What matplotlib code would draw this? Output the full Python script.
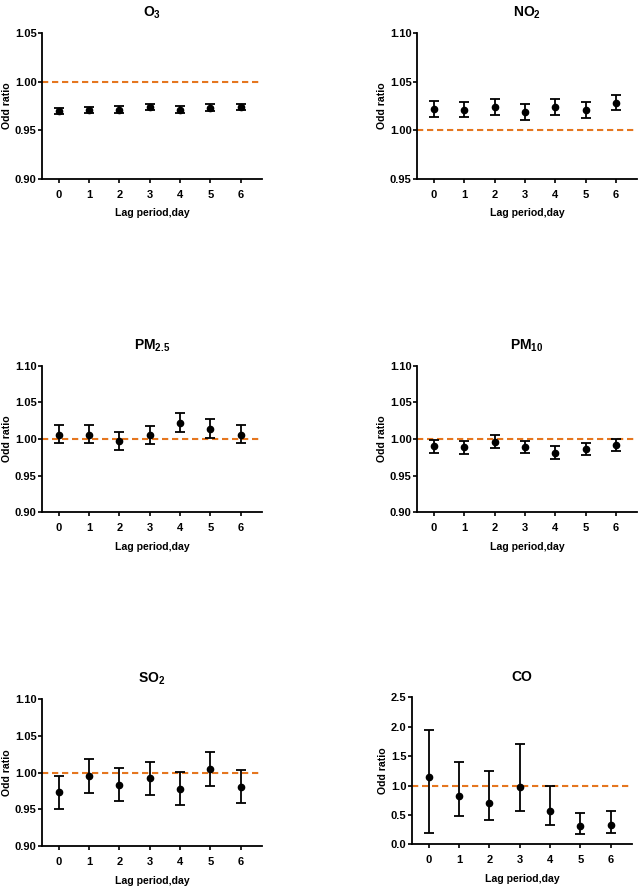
import numpy as np
from matplotlib import pyplot as plt

plt.rcParams["font.family"] = ["Liberation Sans", "DejaVu Sans"]
plt.rcParams["font.weight"] = "bold"
plt.rcParams["mathtext.fontset"] = "custom"
plt.rcParams["mathtext.bf"] = "Liberation Sans:bold"
plt.rcParams["mathtext.rm"] = "Liberation Sans:bold"
plt.rcParams["mathtext.default"] = "bf"

lags = [0, 1, 2, 3, 4, 5, 6]

o3_or = [0.970, 0.971, 0.971, 0.974, 0.971, 0.973, 0.974]
o3_lo = [0.967, 0.968, 0.968, 0.971, 0.968, 0.970, 0.971]
o3_hi = [0.973, 0.974, 0.975, 0.977, 0.975, 0.977, 0.977]

no2_or = [1.022, 1.021, 1.024, 1.019, 1.024, 1.021, 1.028]
no2_lo = [1.014, 1.014, 1.016, 1.011, 1.016, 1.013, 1.021]
no2_hi = [1.030, 1.029, 1.032, 1.027, 1.032, 1.029, 1.036]

pm25_or = [1.006, 1.006, 0.997, 1.005, 1.022, 1.014, 1.006]
pm25_lo = [0.994, 0.994, 0.985, 0.993, 1.010, 1.002, 0.994]
pm25_hi = [1.019, 1.019, 1.010, 1.018, 1.035, 1.027, 1.019]

pm10_or = [0.990, 0.989, 0.996, 0.989, 0.981, 0.986, 0.992]
pm10_lo = [0.981, 0.980, 0.988, 0.981, 0.973, 0.978, 0.983]
pm10_hi = [0.998, 0.997, 1.005, 0.997, 0.990, 0.995, 1.000]

so2_or = [0.973, 0.995, 0.983, 0.992, 0.978, 1.005, 0.980]
so2_lo = [0.950, 0.972, 0.961, 0.969, 0.956, 0.982, 0.959]
so2_hi = [0.996, 1.019, 1.006, 1.015, 1.001, 1.028, 1.003]

co_or = [1.14, 0.82, 0.71, 0.97, 0.57, 0.31, 0.33]
co_lo = [0.19, 0.48, 0.41, 0.56, 0.33, 0.18, 0.20]
co_hi = [1.95, 1.40, 1.25, 1.70, 1.00, 0.54, 0.56]

panels = [
    ("O$_3$", o3_or, o3_lo, o3_hi, (0.90, 1.05), np.arange(0.90, 1.051, 0.05), "%.2f"),
    ("NO$_2$", no2_or, no2_lo, no2_hi, (0.95, 1.10), np.arange(0.95, 1.101, 0.05), "%.2f"),
    ("PM$_{2.5}$", pm25_or, pm25_lo, pm25_hi, (0.90, 1.10), np.arange(0.90, 1.101, 0.05), "%.2f"),
    ("PM$_{10}$", pm10_or, pm10_lo, pm10_hi, (0.90, 1.10), np.arange(0.90, 1.101, 0.05), "%.2f"),
    ("SO$_2$", so2_or, so2_lo, so2_hi, (0.90, 1.10), np.arange(0.90, 1.101, 0.05), "%.2f"),
    ("CO", co_or, co_lo, co_hi, (0.0, 2.5), np.arange(0.0, 2.51, 0.5), "%.1f"),
]

# axes boxes in figure fractions (left, bottom, width, height)
boxes = [
    (0.066, 0.798, 0.344, 0.165),
    (0.653, 0.798, 0.344, 0.165),
    (0.066, 0.422, 0.344, 0.165),
    (0.653, 0.422, 0.344, 0.165),
    (0.066, 0.045, 0.344, 0.166),
    (0.645, 0.047, 0.344, 0.166),
]

fig = plt.figure(figsize=(6.39, 8.86), dpi=100)
orange = "#E5761F"

for (title, val, lo, hi, ylim, yticks, fmt), box in zip(panels, boxes):
    ax = fig.add_axes(box)
    val = np.array(val)
    yerr = [val - np.array(lo), np.array(hi) - val]
    ax.axhline(1.0, color=orange, lw=1.5, dashes=(3, 1.8), zorder=1)
    ax.errorbar(lags, val, yerr=yerr, fmt="o", color="black", ms=4.5,
                capsize=3.8, elinewidth=1.3, capthick=1.3, zorder=3)
    ax.set_xlim(-0.55, 6.7)
    ax.set_ylim(ylim)
    ax.set_yticks(yticks)
    ax.set_yticklabels([fmt % t for t in yticks])
    ax.set_xticks(lags)
    for s in ("top", "right"):
        ax.spines[s].set_visible(False)
    for s in ("left", "bottom"):
        ax.spines[s].set_linewidth(1.3)
    ax.tick_params(direction="out", length=3, width=1.2, labelsize=8, pad=1)
    ax.tick_params(axis="x", pad=5)
    ax.set_title(title, fontsize=10, fontweight="bold", pad=12)
    ax.set_xlabel("Lag period,day", fontsize=7.6, fontweight="bold", labelpad=6)
    ax.set_ylabel("Odd ratio", fontsize=7.6, fontweight="bold", labelpad=2)

plt.savefig("out.png", dpi=100)
plt.close()
